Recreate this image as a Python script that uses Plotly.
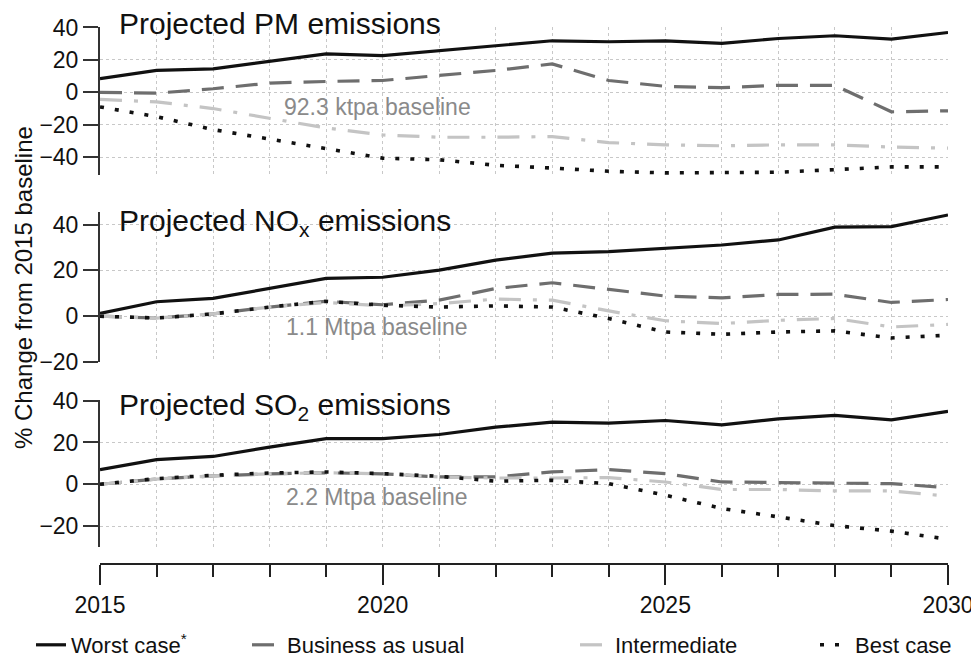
import plotly.graph_objects as go

years = list(range(2015, 2031))

pm_worst = [8.4, 13.5, 14.5, 19, 23.7, 22.6, 25.7, 29, 31.8, 31.2, 31.8, 30.2, 33.2, 34.9, 32.8, 36.9]
pm_bau = [0, -0.5, 2.2, 5.7, 6.7, 7.3, 10.4, 13.5, 17.5, 7.3, 3.7, 2.9, 4.3, 4.3, -12, -11.4]
pm_inter = [-4.3, -5.9, -10, -16, -22, -26.3, -27.7, -27.7, -27.3, -31, -32.4, -33, -32.4, -32.4, -33.8, -34.4]
pm_best = [-9, -15, -23, -29, -35, -40.6, -41.6, -45, -46.7, -48.7, -49.7, -49.7, -49.3, -47.7, -46, -46]

nox_worst = [1.2, 6.3, 7.8, 12.1, 16.5, 17, 20.1, 24.5, 27.5, 28.2, 29.7, 31.1, 33.3, 38.9, 39.1, 44.2]
nox_bau = [0, -0.8, 1, 4, 6.5, 5, 7, 12.1, 14.6, 11.7, 8.8, 8, 9.5, 9.6, 6, 7.3]
nox_inter = [0, -0.8, 1, 4, 6, 4.5, 5.5, 7.5, 7, 2.3, -2, -3.2, -1.8, -1, -4.7, -3.6]
nox_best = [0, -0.8, 1, 4, 6.5, 4.8, 4, 4.5, 4, -1, -6.9, -7.9, -6.9, -6.4, -9.5, -8.3]

so2_worst = [7, 11.8, 13.3, 17.8, 21.8, 21.8, 23.8, 27.3, 29.7, 29.2, 30.5, 28.4, 31.3, 32.9, 30.8, 34.9]
so2_bau = [0, 2.5, 4, 5, 5.5, 5, 3.5, 3.5, 5.9, 7, 5.1, 1.1, 0.8, 0.6, 0.3, -1.6]
so2_inter = [0, 2.5, 4, 5, 5.5, 5, 3.5, 3, 3, 3.2, 1.1, -2.5, -2.5, -3.2, -3.2, -5.7]
so2_best = [0, 2.7, 4.3, 5.4, 5.9, 5.1, 3.8, 1.5, 1.9, 0.3, -5.2, -11.6, -15.6, -19.8, -22.4, -26.3]

scenario_names = ["Worst case<sup>*</sup>", "Business as usual", "Intermediate", "Best case"]
panel_titles = ["Projected PM emissions", "Projected NO<sub>x</sub> emissions", "Projected SO<sub>2</sub> emissions"]
baseline_labels = ["92.3 ktpa baseline", "1.1 Mtpa baseline", "2.2 Mtpa baseline"]

panels = [
    [pm_worst, pm_bau, pm_inter, pm_best],
    [nox_worst, nox_bau, nox_inter, nox_best],
    [so2_worst, so2_bau, so2_inter, so2_best],
]

styles = [
    dict(color="#111111", width=3.2, dash="solid"),
    dict(color="#6e6e6e", width=3.2, dash="22px,12px"),
    dict(color="#c4c4c4", width=3.2, dash="22px,12px,4px,12px"),
    dict(color="#111111", width=3.6, dash="4px,11px"),
]

FONT = "Liberation Sans, Arial, sans-serif"
fig = go.Figure()

axis_ids = [("x", "y"), ("x2", "y2"), ("x3", "y3")]
legend_ids = ["legend", "legend2", "legend3", "legend4"]
for p, series in enumerate(panels):
    xa, ya = axis_ids[p]
    for s, vals in enumerate(series):
        fig.add_trace(go.Scatter(
            x=years, y=vals, mode="lines", name=scenario_names[s],
            line=styles[s], xaxis=xa, yaxis=ya,
            showlegend=(p == 2), legend=legend_ids[s], hoverinfo="skip",
        ))

# page body has an 8px margin: figure sized so the page fits the window
H = 537.0
def py(px):
    return (564 - px) / H

def pxx(px):
    return (px - 100) / 848.0

grid_common = dict(showgrid=True, gridcolor="#c8c8c8", griddash="dot", gridwidth=1)

domains = [(py(175), 1.0), (py(362), py(212)), (py(547), py(400))]
ranges = [(-51, 40.3), (-20, 45.5), (-30, 40.3)]

layout = dict(
    width=968, height=650,
    margin=dict(l=92, r=28, t=19, b=94, autoexpand=False),
    paper_bgcolor="white", plot_bgcolor="white",
    font=dict(family=FONT, size=23, color="#111111"),
)

for p in range(3):
    xkey = "xaxis" if p == 0 else f"xaxis{p+1}"
    ykey = "yaxis" if p == 0 else f"yaxis{p+1}"
    yref = "y" if p == 0 else f"y{p+1}"
    layout[ykey] = dict(
        domain=list(domains[p]), range=list(ranges[p]), dtick=20, tick0=0,
        showline=True, linecolor="#333333", linewidth=2,
        ticks="outside", ticklen=15, tickwidth=2, tickcolor="#333333",
        zeroline=False, tickfont=dict(size=23), anchor=("x" if p == 0 else f"x{p+1}"),
        automargin=False,
        **grid_common,
    )
    if p < 2:
        layout[xkey] = dict(
            range=[2015, 2030], dtick=1, tick0=2015, showline=False,
            showticklabels=False, ticks="", zeroline=False, anchor=yref,
            automargin=False,
            **grid_common,
        )
    else:
        layout[xkey] = dict(
            range=[2015, 2030], dtick=5, tick0=2015, anchor="free", position=0,
            showline=True, linecolor="#222222", linewidth=2,
            ticks="outside", ticklen=20, tickwidth=2, tickcolor="#222222",
            tickfont=dict(size=23), zeroline=False, automargin=False,
            ticklabeloverflow="allow",
            minor=dict(dtick=1, ticks="outside", ticklen=12, tickwidth=2,
                       tickcolor="#222222", showgrid=True, gridcolor="#c8c8c8",
                       griddash="dot", gridwidth=1),
            **grid_common,
        )

legend_x = [pxx(31), pxx(247), pxx(575), pxx(815)]
for i, lk in enumerate(legend_ids):
    layout[lk] = dict(
        x=legend_x[i], y=py(645), xanchor="left", yanchor="middle",
        orientation="h", bgcolor="rgba(0,0,0,0)",
        font=dict(family=FONT, size=22, color="#111111"),
        itemwidth=30,
    )

annotations = []
title_y = [py(23), py(223), py(407)]
base_y = [py(107), py(327), py(497)]
for p in range(3):
    annotations.append(dict(
        text=panel_titles[p], xref="paper", yref="paper", x=pxx(117), y=title_y[p],
        xanchor="left", yanchor="middle", showarrow=False,
        font=dict(family=FONT, size=30, color="#111111"),
    ))
    annotations.append(dict(
        text=baseline_labels[p], xref="paper", yref="paper", x=pxx(377), y=base_y[p],
        xanchor="center", yanchor="middle", showarrow=False,
        font=dict(family=FONT, size=23, color="#8a8a8a"),
    ))
annotations.append(dict(
    text="% Change from 2015 baseline", xref="paper", yref="paper",
    x=pxx(23), y=py(288), xanchor="center", yanchor="middle",
    textangle=-90, showarrow=False,
    font=dict(family=FONT, size=24, color="#111111"),
))
layout["annotations"] = annotations

fig.update_layout(**layout)
fig.write_html("out.html")
